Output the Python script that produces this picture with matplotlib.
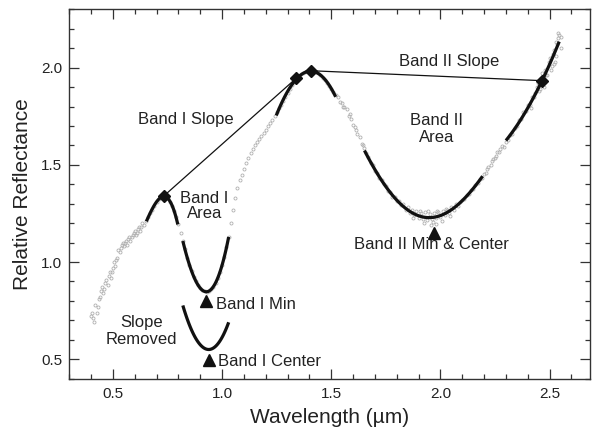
import numpy as np
import matplotlib.pyplot as plt
from matplotlib.ticker import MultipleLocator, FormatStrFormatter

plt.rcParams["font.family"] = ["Liberation Sans", "DejaVu Sans"]

# measured spectrum (gray points)
wavelength = [
    0.40, 0.41, 0.42, 0.43, 0.44, 0.45, 0.46, 0.47, 0.48, 0.49,
    0.50, 0.51, 0.52, 0.53, 0.54, 0.55, 0.56, 0.57, 0.58, 0.59,
    0.60, 0.61, 0.62, 0.63, 0.64, 0.65,
    0.405, 0.415, 0.425, 0.435, 0.445, 0.455, 0.465, 0.475, 0.485, 0.495,
    0.505, 0.515, 0.525, 0.535, 0.545, 0.555, 0.565, 0.575, 0.585, 0.595,
    0.605, 0.615, 0.625, 0.635,
    0.66, 0.67, 0.68, 0.69, 0.70, 0.71, 0.72, 0.73, 0.74, 0.75,
    0.76, 0.77, 0.78, 0.79, 0.80, 0.81, 0.82, 0.83, 0.84, 0.85,
    0.86, 0.87, 0.88, 0.89, 0.90, 0.91, 0.92, 0.93, 0.94, 0.95,
    0.96, 0.97, 0.98, 0.99, 1.00, 1.01, 1.02, 1.03,
    1.04, 1.05, 1.06, 1.07, 1.08, 1.09, 1.10, 1.11, 1.12, 1.13,
    1.14, 1.15, 1.16, 1.17, 1.18, 1.19, 1.20, 1.21, 1.22, 1.23,
    1.24, 1.25,
    1.26, 1.27, 1.28, 1.29, 1.30, 1.31, 1.32, 1.33, 1.34, 1.35,
    1.36, 1.37, 1.38, 1.39, 1.40, 1.41, 1.42, 1.43, 1.44, 1.45,
    1.46, 1.47, 1.48, 1.49, 1.50, 1.51, 1.52,
    1.53, 1.54, 1.55, 1.56, 1.57, 1.58, 1.59, 1.60, 1.61, 1.62,
    1.63, 1.64, 1.65, 1.555, 1.585, 1.615, 1.645,
    1.66, 1.67, 1.68, 1.69, 1.70, 1.71, 1.72, 1.73, 1.74, 1.75,
    1.76, 1.77, 1.78, 1.79, 1.80, 1.81, 1.82, 1.83, 1.84, 1.85,
    1.86, 1.87, 1.88, 1.89, 1.90, 1.91, 1.92, 1.93, 1.94, 1.95,
    1.96, 1.97, 1.98, 1.99, 2.00, 2.01, 2.02, 2.03, 2.04, 2.05,
    2.06, 2.07, 2.08, 2.09, 2.10, 2.11, 2.12, 2.13, 2.14, 2.15,
    2.16, 2.17, 2.18, 2.19,
    1.875, 1.905, 1.925, 1.945, 1.965, 1.985, 2.005, 2.025, 2.045, 1.955,
    1.98,
    2.20, 2.21, 2.22, 2.23, 2.24, 2.25, 2.26, 2.27, 2.28, 2.29,
    2.30, 2.215, 2.235, 2.255, 2.275,
    2.31, 2.32, 2.33, 2.34, 2.35, 2.36, 2.37, 2.38, 2.39, 2.40,
    2.41, 2.42, 2.43, 2.44, 2.45, 2.46, 2.47, 2.48, 2.49, 2.50,
    2.51, 2.52, 2.53, 2.54, 2.55,
    2.415, 2.435, 2.445, 2.455, 2.465, 2.475, 2.485, 2.495, 2.505, 2.515,
    2.525, 2.535, 2.545, 2.55, 2.54, 2.53, 2.52,
]
reflectance = [
    0.72, 0.71, 0.78, 0.77, 0.82, 0.87, 0.86, 0.91, 0.93, 0.92,
    0.97, 0.98, 1.02, 1.05, 1.09, 1.08, 1.11, 1.12, 1.11, 1.14,
    1.16, 1.15, 1.18, 1.18, 1.19, 1.21,
    0.74, 0.69, 0.74, 0.81, 0.85, 0.84, 0.89, 0.88, 0.95, 0.95,
    1.00, 1.01, 1.06, 1.07, 1.10, 1.10, 1.09, 1.13, 1.13, 1.15,
    1.14, 1.17, 1.16, 1.20,
    1.23, 1.25, 1.27, 1.29, 1.31, 1.325, 1.335, 1.34, 1.338, 1.33,
    1.31, 1.29, 1.26, 1.23, 1.195, 1.15, 1.11, 1.065, 1.02, 0.985,
    0.955, 0.925, 0.90, 0.882, 0.866, 0.856, 0.85, 0.848, 0.851, 0.859,
    0.873, 0.893, 0.918, 0.949, 0.985, 1.027, 1.075, 1.13,
    1.20, 1.27, 1.33, 1.38, 1.42, 1.45, 1.48, 1.51, 1.535, 1.56,
    1.58, 1.60, 1.615, 1.635, 1.65, 1.665, 1.68, 1.70, 1.715, 1.73,
    1.75, 1.77,
    1.79, 1.81, 1.83, 1.85, 1.87, 1.89, 1.91, 1.928, 1.945, 1.957,
    1.967, 1.974, 1.979, 1.983, 1.985, 1.984, 1.982, 1.977, 1.97, 1.96,
    1.948, 1.934, 1.92, 1.905, 1.89, 1.875, 1.86,
    1.85, 1.825, 1.82, 1.795, 1.785, 1.75, 1.735, 1.705, 1.695, 1.66,
    1.645, 1.605, 1.585, 1.80, 1.76, 1.68, 1.60,
    1.56, 1.54, 1.51, 1.50, 1.47, 1.46, 1.43, 1.42, 1.40, 1.39,
    1.365, 1.36, 1.335, 1.335, 1.315, 1.315, 1.295, 1.30, 1.27, 1.285,
    1.25, 1.27, 1.24, 1.265, 1.225, 1.25, 1.22, 1.255, 1.215, 1.245,
    1.22, 1.25, 1.225, 1.255, 1.23, 1.26, 1.24, 1.27, 1.25, 1.285,
    1.27, 1.30, 1.29, 1.31, 1.32, 1.325, 1.345, 1.35, 1.37, 1.375,
    1.395, 1.405, 1.425, 1.43,
    1.225, 1.265, 1.20, 1.26, 1.205, 1.265, 1.21, 1.275, 1.235, 1.19,
    1.195,
    1.455, 1.46, 1.49, 1.50, 1.53, 1.535, 1.565, 1.565, 1.595, 1.59,
    1.62, 1.48, 1.52, 1.545, 1.58,
    1.63, 1.655, 1.66, 1.69, 1.70, 1.73, 1.735, 1.77, 1.775, 1.81,
    1.81, 1.85, 1.85, 1.90, 1.88, 1.94, 1.93, 1.99, 1.96, 2.05,
    2.01, 2.09, 2.06, 2.15, 2.10,
    1.79, 1.87, 1.92, 1.89, 1.97, 1.90, 1.96, 2.03, 1.99, 2.07,
    2.03, 2.12, 2.17, 2.16, 2.18, 2.13, 2.02,
]

# continuum (slope) end points
band1_slope_x = [0.733, 1.339]
band1_slope_y = [1.34, 1.945]
band2_slope_x = [1.408, 2.465]
band2_slope_y = [1.984, 1.933]

# wavelength ranges of the polynomial fits and their degree
peak1_range = (0.653, 0.797, 3)
band1_range = (0.82, 1.03, 3)
peak2_range = (1.248, 1.52, 3)
band2_range = (1.652, 2.193, 4)
peak3_range = (2.30, 2.544, 2)

# band minima / centers (triangles)
tri_x = [0.925, 0.938, 1.97]
tri_y = [0.80, 0.497, 1.15]

wl = np.array(wavelength)
refl = np.array(reflectance)


def fit_range(lo, hi, deg):
    m = (wl >= lo) & (wl <= hi)
    coef = np.polyfit(wl[m], refl[m], deg)
    xs = np.linspace(lo, hi, 120)
    return xs, np.polyval(coef, xs)


fig = plt.figure(figsize=(5.92, 4.28), dpi=100)
ax = fig.add_axes([69.3 / 592, 49.3 / 428, 520.7 / 592, 369.4 / 428])

ax.plot(wl, refl, "o", ms=2.2, mfc="none", mec="#b0b0b0", mew=0.6, zorder=1)

ax.plot(band1_slope_x, band1_slope_y, color="#111111", lw=0.9, zorder=2)
ax.plot(band2_slope_x, band2_slope_y, color="#111111", lw=0.9, zorder=2)

for lo, hi, deg in [peak1_range, band1_range, peak2_range, band2_range, peak3_range]:
    xs, ys = fit_range(lo, hi, deg)
    ax.plot(xs, ys, color="#111111", lw=2.3, solid_capstyle="butt", zorder=3)

# band I with the continuum divided out
xs, ys = fit_range(*band1_range)
cont = np.interp(xs, band1_slope_x, band1_slope_y)
ax.plot(xs, ys / cont, color="#111111", lw=2.3, solid_capstyle="butt", zorder=3)

ax.plot(band1_slope_x + band2_slope_x, band1_slope_y + band2_slope_y, "D",
        ms=6, color="#111111", zorder=4)
ax.plot(tri_x, tri_y, "^", ms=8, color="#111111", zorder=4)

tc = "#222222"
ax.text(0.833, 1.735, "Band I Slope", ha="center", va="center", fontsize=12, color=tc)
ax.text(0.92, 1.289, "Band I\nArea", ha="center", va="center", fontsize=12,
        linespacing=1.0, color=tc)
ax.text(0.632, 0.645, "Slope\nRemoved", ha="center", va="center", fontsize=12,
        linespacing=1.1, color=tc)
ax.text(0.973, 0.78, "Band I Min", ha="left", va="center", fontsize=12, color=tc)
ax.text(0.98, 0.487, "Band I Center", ha="left", va="center", fontsize=12, color=tc)
ax.text(2.041, 2.031, "Band II Slope", ha="center", va="center", fontsize=12, color=tc)
ax.text(1.984, 1.684, "Band II\nArea", ha="center", va="center", fontsize=12,
        linespacing=1.1, color=tc)
ax.text(1.959, 1.088, "Band II Min & Center", ha="center", va="center",
        fontsize=12, color=tc)

ax.set_xlim(0.3, 2.685)
ax.set_ylim(0.4, 2.3)
ax.set_xticks([0.5, 1.0, 1.5, 2.0, 2.5])
ax.set_yticks([0.5, 1.0, 1.5, 2.0])
ax.xaxis.set_minor_locator(MultipleLocator(0.1))
ax.yaxis.set_minor_locator(MultipleLocator(0.1))
ax.xaxis.set_major_formatter(FormatStrFormatter("%.1f"))
ax.yaxis.set_major_formatter(FormatStrFormatter("%.1f"))
ax.tick_params(which="both", direction="in", top=True, right=True,
               width=0.9, color="#333333", labelsize=11, labelcolor=tc)
ax.tick_params(which="major", length=7)
ax.tick_params(which="minor", length=3.5)
ax.tick_params(axis="x", pad=6)
ax.tick_params(axis="y", pad=5)
for s in ax.spines.values():
    s.set_linewidth(1.0)
    s.set_color("#333333")

ax.set_xlabel("Wavelength (\u00b5m)", fontsize=15, color=tc, labelpad=5)
ax.set_ylabel("Relative Reflectance", fontsize=15, color=tc, labelpad=7)

fig.savefig("out.png", dpi=100)
